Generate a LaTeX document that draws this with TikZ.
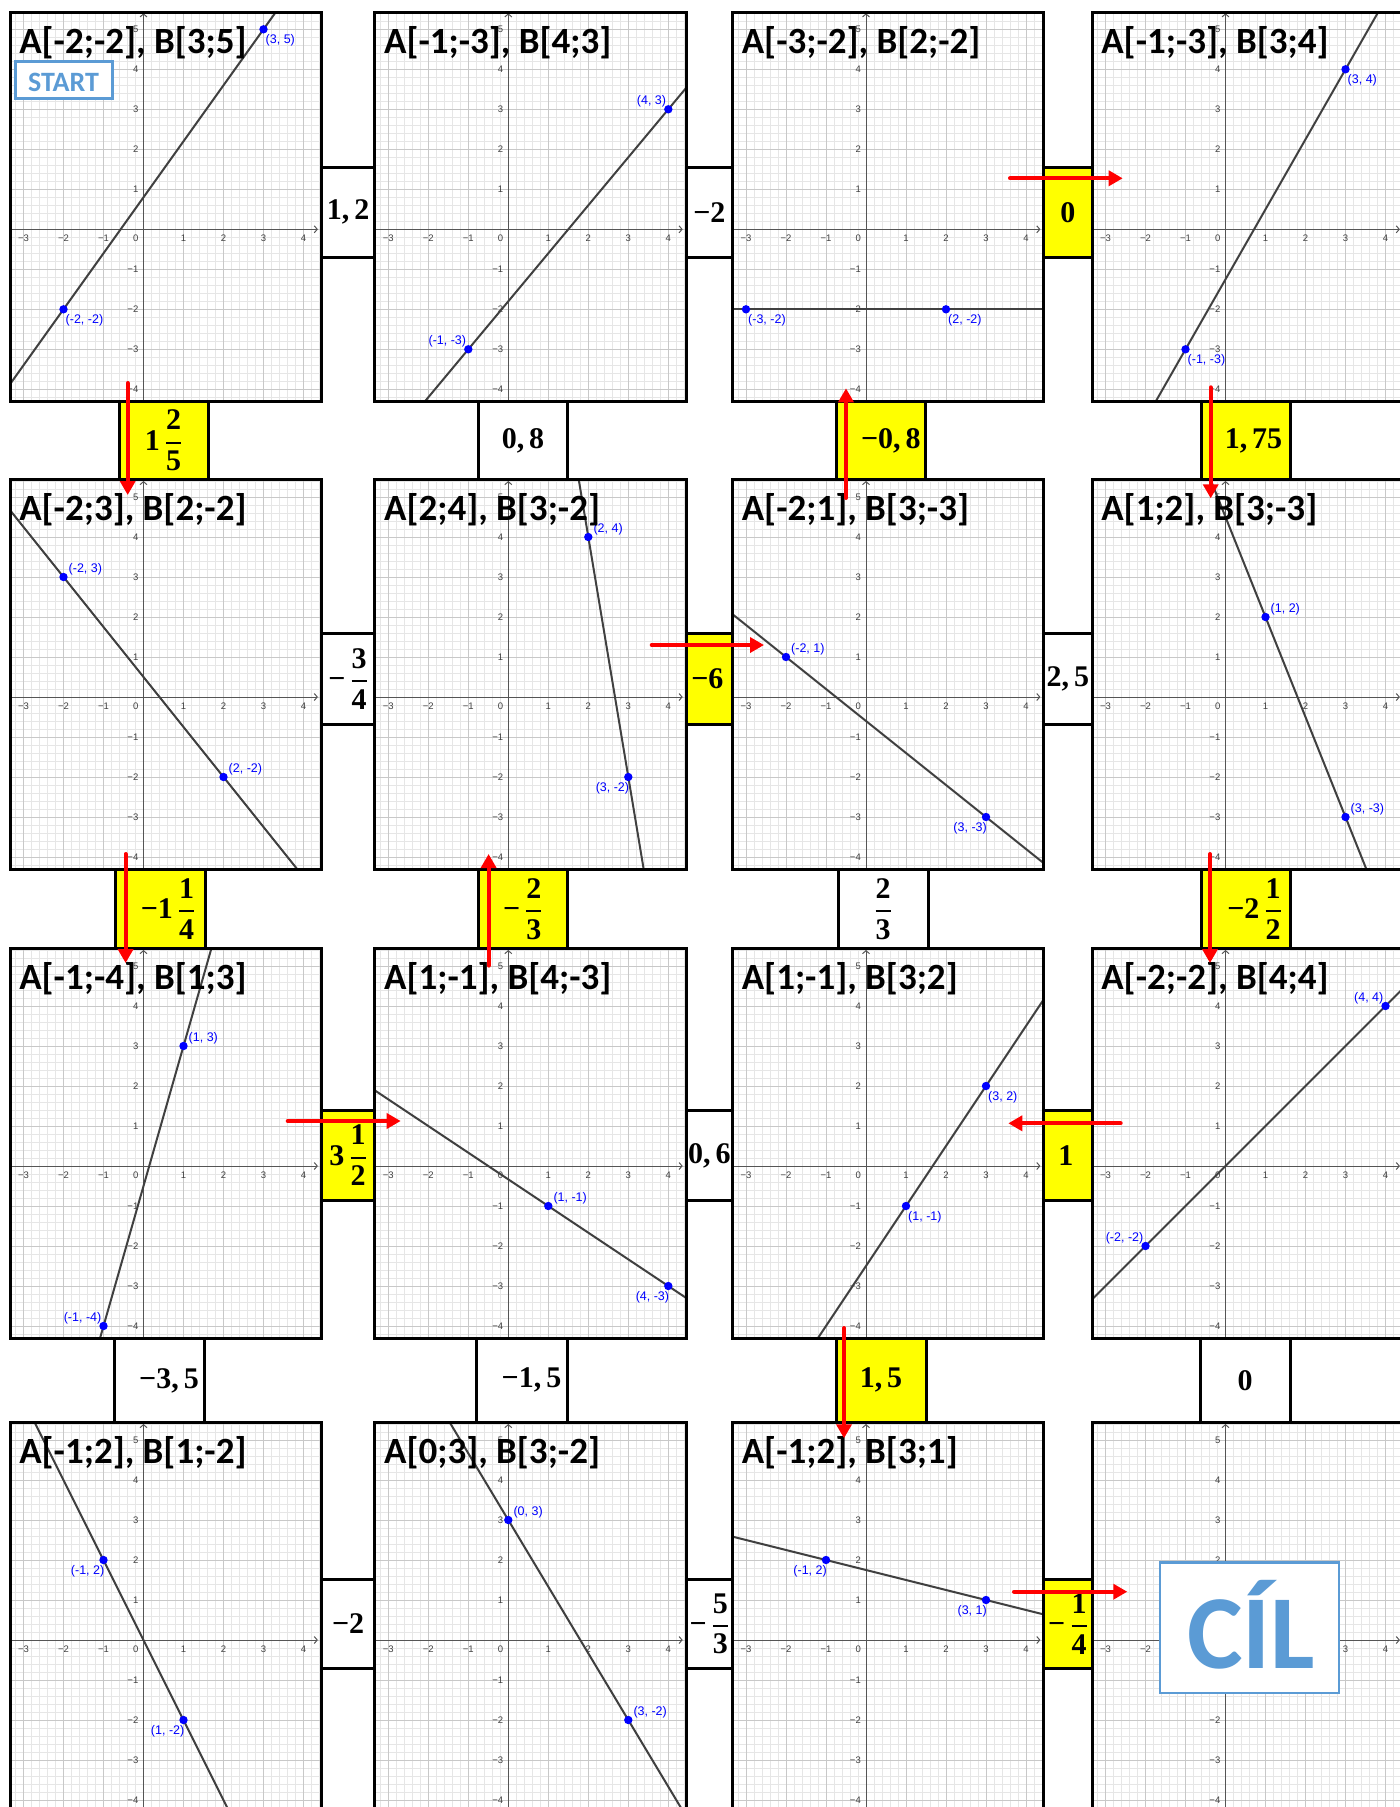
\RequirePackage{fix-cm}
\documentclass[tikz,border=0pt]{standalone}
\usepackage{amsmath}
\usepackage[no-math]{fontspec}
\usetikzlibrary{arrows.meta,calc}
\newfontfamily\carl{Carlito}
\newfontfamily\lsans{Liberation Sans}
\newfontfamily\numfont{Liberation Serif}
\definecolor{gyellow}{RGB}{255,255,0}
\definecolor{gred}{RGB}{255,0,0}
\definecolor{gblue}{RGB}{0,0,255}
\definecolor{sblue}{RGB}{91,155,213}
\definecolor{glinecol}{RGB}{64,64,64}
\definecolor{gmajor}{RGB}{200,200,200}
\definecolor{gminor}{RGB}{230,230,230}
\definecolor{gaxis}{RGB}{85,85,85}
\newcommand\bxfont{\numfont\bfseries\fontsize{30}{36}\selectfont}
\newcommand\fr[2]{$\genfrac{}{}{2pt}{0}{\text{#1}}{\text{#2}}$}
\newcommand\xtl{-3/−3,-2/−2,-1/−1,1/1,2/2,3/3,4/4}
\newcommand\ytl{-4/−4,-3/−3,-2/−2,-1/−1,1/1,2/2,3/3,4/4,5/5}
\newif\ifshowzero \showzerotrue
\tikzset{
  mingrid/.style={draw=gminor, line width=0.6pt},
  majgrid/.style={draw=gmajor, line width=1pt},
  axln/.style={draw=gaxis, line width=1pt},
  pborder/.style={draw=black, line width=3pt},
  abline/.style={draw=glinecol, line width=2pt},
  ptlabel/.style={text=gblue, font=\lsans\fontsize{12.5}{13}\selectfont, inner sep=0pt},
  ticklab/.style={text=black!75, font=\lsans\fontsize{9.5}{10}\selectfont, inner sep=0pt},
  titletext/.style={anchor=base west, font=\carl\bfseries\fontsize{37}{40}\selectfont, inner sep=0pt},
  BR/.style={anchor=west, xshift=2pt, yshift=-11pt},
  UR/.style={anchor=west, xshift=5pt, yshift=8pt},
  UL/.style={anchor=east, xshift=-2pt, yshift=8pt},
  BL/.style={anchor=east, xshift=1pt, yshift=-11pt},
  wbox/.style={draw=black, line width=3pt, fill=white, inner sep=0pt},
  ybox/.style={draw=black, line width=3pt, fill=gyellow, inner sep=0pt},
  boxtext/.style={font=\bxfont, inner sep=0pt},
  redarrow/.style={draw=gred, line width=4pt, line cap=round, -{Triangle[length=14pt,width=15pt]}},
}
% base of one graph panel: id, origin x, origin y (pixels)
\newcommand{\gbase}[3]{%
 \begin{scope}[shift={(#2,#3)},x=40pt,y=40pt]
  \fill[white] (-3.335,-4.3) rectangle (4.445,5.43);
  \begin{scope}
   \clip (-3.335,-4.3) rectangle (4.445,5.43);
   \foreach \i in {-16,...,22} {\draw[mingrid] (\i/5,-4.3) -- (\i/5,5.43);}
   \foreach \j in {-21,...,27} {\draw[mingrid] (-3.335,\j/5) -- (4.445,\j/5);}
   \foreach \i in {-3,...,4} {\draw[majgrid] (\i,-4.3) -- (\i,5.43);}
   \foreach \j in {-4,...,5} {\draw[majgrid] (-3.335,\j) -- (4.445,\j);}
   \draw[axln,-{Straight Barb[length=3pt,width=7pt]}] (-3.335,0) -- (4.36,0);
   \draw[axln,-{Straight Barb[length=3pt,width=7pt]}] (0,-4.3) -- (0,5.4);
   \foreach \i/\t in \xtl
     {\node[ticklab] (#1x\i) at (\i,0) [yshift=-9pt] {\t};}
   \foreach \j/\t in \ytl
     {\node[ticklab,anchor=east] (#1y\j) at (0,\j) [xshift=-5pt] {\t};}
   \ifshowzero\node[ticklab,anchor=east] (#1o) at (0,0) [xshift=-5pt,yshift=-9pt] {0};\fi
  \end{scope}
 \end{scope}}
% full panel: id, ox, oy, Ax, Ay, Bx, By, label pos A, label pos B
\newcommand{\gpanel}[9]{%
 \gbase{#1}{#2}{#3}%
 \begin{scope}[shift={(#2,#3)},x=40pt,y=40pt]
  \coordinate (#1A) at (#4,#5);
  \coordinate (#1B) at (#6,#7);
  \begin{scope}
   \clip (-3.335,-4.3) rectangle (4.445,5.43);
   \draw[abline] ($(#1A)!-6!(#1B)$) -- ($(#1A)!7!(#1B)$);
  \end{scope}
  \fill[gblue] (#1A) circle[radius=4.2pt];
  \fill[gblue] (#1B) circle[radius=4.2pt];
  \node[ptlabel,#8] (#1LA) at (#1A) {(#4, #5)};
  \node[ptlabel,#9] (#1LB) at (#1B) {(#6, #7)};
  \node[titletext] (#1T) at (-3.335,5.43) [xshift=9pt,yshift=-41pt] {A[#4;#5], B[#6;#7]};
  \draw[pborder] (-3.335,-4.3) rectangle (4.445,5.43);
 \end{scope}}
\begin{document}
\begin{tikzpicture}[x=1pt,y=-1pt]
\useasboundingbox (0,0) rectangle (1400,1807);
\clip (0,0) rectangle (1400,1807);
\fill[white] (0,0) rectangle (1400,1807);
% row 1
\gpanel{ra}{143.5}{229.3}{-2}{-2}{3}{5}{BR}{BR}
\gpanel{rb}{508.3}{229.3}{-1}{-3}{4}{3}{UL}{UL}
\gpanel{rc}{866}{229.3}{-3}{-2}{2}{-2}{BR}{BR}
\gpanel{rd}{1225.5}{229.3}{-1}{-3}{3}{4}{BR}{BR}
% row 2
\gpanel{sa}{143.5}{697}{-2}{3}{2}{-2}{UR}{UR}
\gpanel{sb}{508.3}{697}{2}{4}{3}{-2}{UR}{BL}
\gpanel{sc}{866}{697}{-2}{1}{3}{-3}{UR}{BL}
\gpanel{sd}{1225.5}{697}{1}{2}{3}{-3}{UR}{UR}
% row 3
\gpanel{ta}{143.5}{1166}{-1}{-4}{1}{3}{UL}{UR}
\gpanel{tb}{508.3}{1166}{1}{-1}{4}{-3}{UR}{BL}
\gpanel{tc}{866}{1166}{1}{-1}{3}{2}{BR}{BR}
\gpanel{td}{1225.5}{1166}{-2}{-2}{4}{4}{UL}{UL}
% row 4
\gpanel{ua}{143.5}{1640}{-1}{2}{1}{-2}{BL}{BL}
\gpanel{ub}{508.3}{1640}{0}{3}{3}{-2}{UR}{UR}
\gpanel{uc}{866}{1640}{-1}{2}{3}{1}{BL}{BL}
% goal panel: labels under the goal box are hidden
\renewcommand\xtl{-3/−3,-2/−2,3/3,4/4}
\renewcommand\ytl{-4/−4,-3/−3,-2/−2,2/2,3/3,4/4,5/5}
\showzerofalse
\gbase{ud}{1225.5}{1640}
\draw[pborder] (1092.1,1422.8) rectangle (1403.9,1812);
% START and goal
\node[draw=sblue, line width=2.5pt, fill=white, minimum width=97pt, minimum height=37pt, inner sep=0pt] (startbox) at (64.2,80.2) {};
\node[anchor=base, text=sblue, font=\carl\bfseries\fontsize{28}{30}\selectfont, inner sep=0pt] (starttxt) at (63.5,91.7) {START};
\node[draw=sblue, line width=2.5pt, fill=white, minimum width=179pt, minimum height=130.3pt, inner sep=0pt] (goalbox) at (1249.5,1627.85) {};
\node[anchor=base, text=sblue, font=\carl\bfseries\fontsize{105}{110}\selectfont, inner sep=0pt] (goaltxt) at (1251,1668) {CÍL};
% horizontal boxes, row 1
\node[wbox,minimum width=53.6pt,minimum height=89.3pt] (h1a) at (348.1,212.35) {};
\node[boxtext] (h1at) at (h1a) {1,\,2};
\node[wbox,minimum width=46.5pt,minimum height=89.3pt] (h1b) at (709.35,212.35) {};
\node[boxtext] (h1bt) at (h1b) {−2};
\node[ybox,minimum width=48.3pt,minimum height=89.3pt] (h1c) at (1067.95,212.35) {};
\node[boxtext] (h1ct) at (h1c) {0};
% row 2
\node[wbox,minimum width=53.6pt,minimum height=90.7pt] (h2a) at (348.1,678.65) {};
\node[boxtext] (h2at) at (h2a) {−\,\fr{3}{4}};
\node[ybox,minimum width=46.5pt,minimum height=90.7pt] (h2b) at (709.35,678.65) {};
\node[boxtext,xshift=-2pt] (h2bt) at (h2b) {−6};
\node[wbox,minimum width=48.3pt,minimum height=90.7pt] (h2c) at (1067.95,678.65) {};
\node[boxtext] (h2ct) at (h2c) {2,\,5};
% row 3
\node[ybox,minimum width=53.6pt,minimum height=90pt] (h3a) at (348.1,1155.5) {};
\node[boxtext] (h3at) at (h3a) {3\,\fr{1}{2}};
\node[wbox,minimum width=46.5pt,minimum height=90pt] (h3b) at (709.35,1155.5) {};
\node[boxtext] (h3bt) at (h3b) {0,\,6};
\node[ybox,minimum width=48.3pt,minimum height=90pt] (h3c) at (1067.95,1155.5) {};
\node[boxtext,xshift=-2pt] (h3ct) at (h3c) {1};
% row 4
\node[wbox,minimum width=53.6pt,minimum height=89.5pt] (h4a) at (348.1,1623.75) {};
\node[boxtext] (h4at) at (h4a) {−2};
\node[wbox,minimum width=46.5pt,minimum height=89.5pt] (h4b) at (709.35,1623.75) {};
\node[boxtext] (h4bt) at (h4b) {−\,\fr{5}{3}};
\node[ybox,minimum width=48.3pt,minimum height=89.5pt] (h4c) at (1067.95,1623.75) {};
\node[boxtext] (h4ct) at (h4c) {−\,\fr{1}{4}};
% vertical boxes, rows 1-2
\node[ybox,minimum width=89pt,minimum height=78.5pt] (v1a) at (163.5,440.55) {};
\node[boxtext] (v1at) at (v1a) {1\,\fr{2}{5}};
\node[wbox,minimum width=89.4pt,minimum height=78.5pt] (v1b) at (523,440.55) {};
\node[boxtext] (v1bt) at (v1b) {0,\,8};
\node[ybox,minimum width=89.7pt,minimum height=78.5pt] (v1c) at (880.85,440.55) {};
\node[boxtext,xshift=10pt] (v1ct) at (v1c) {−0,\,8};
\node[ybox,minimum width=89pt,minimum height=78.5pt] (v1d) at (1245.5,440.55) {};
\node[boxtext,xshift=8pt] (v1dt) at (v1d) {1,\,75};
% rows 2-3
\node[ybox,minimum width=90pt,minimum height=79.8pt] (v2a) at (160,908.9) {};
\node[boxtext,xshift=8pt] (v2at) at (v2a) {−1\,\fr{1}{4}};
\node[ybox,minimum width=89.5pt,minimum height=79.8pt] (v2b) at (522.75,908.9) {};
\node[boxtext] (v2bt) at (v2b) {−\,\fr{2}{3}};
\node[wbox,minimum width=89.7pt,minimum height=79.8pt] (v2c) at (883.15,908.9) {};
\node[boxtext] (v2ct) at (v2c) {\fr{2}{3}};
\node[ybox,minimum width=89pt,minimum height=79.8pt] (v2d) at (1245.5,908.9) {};
\node[boxtext,xshift=9pt] (v2dt) at (v2d) {−2\,\fr{1}{2}};
% rows 3-4
\node[wbox,minimum width=90pt,minimum height=84.8pt] (v3a) at (159,1380.4) {};
\node[boxtext,xshift=10pt] (v3at) at (v3a) {−3,\,5};
\node[wbox,minimum width=91pt,minimum height=84.8pt] (v3b) at (521.5,1380.4) {};
\node[boxtext,xshift=10pt] (v3bt) at (v3b) {−1,\,5};
\node[ybox,minimum width=90pt,minimum height=84.8pt] (v3c) at (881,1380.4) {};
\node[boxtext] (v3ct) at (v3c) {1,\,5};
\node[wbox,minimum width=90pt,minimum height=84.8pt] (v3d) at (1245,1380.4) {};
\node[boxtext] (v3dt) at (v3d) {0};
% red arrows
\coordinate (a1s) at (127.7,383);    \coordinate (a1e) at (127.7,495);
\coordinate (a2s) at (846,498);      \coordinate (a2e) at (846,388.3);
\coordinate (a3s) at (1010,178.3);   \coordinate (a3e) at (1122.7,178.3);
\coordinate (a4s) at (1210.7,387.3); \coordinate (a4e) at (1210.7,498.3);
\coordinate (a5s) at (651.7,645);    \coordinate (a5e) at (764,645);
\coordinate (a6s) at (125.6,854);    \coordinate (a6e) at (125.6,963);
\coordinate (a7s) at (488.6,965.6);  \coordinate (a7e) at (488.6,854);
\coordinate (a8s) at (1210,854);     \coordinate (a8e) at (1210,963);
\coordinate (a9s) at (287.7,1121);   \coordinate (a9e) at (400.7,1121);
\coordinate (a10s) at (1120.7,1123.3); \coordinate (a10e) at (1008.3,1123.3);
\coordinate (a11s) at (844,1328);    \coordinate (a11e) at (844,1438.3);
\coordinate (a12s) at (1014,1591.7); \coordinate (a12e) at (1127.3,1591.7);
\foreach \k in {1,...,12} {\draw[redarrow] (a\k s) -- (a\k e);}
\end{tikzpicture}
\end{document}
